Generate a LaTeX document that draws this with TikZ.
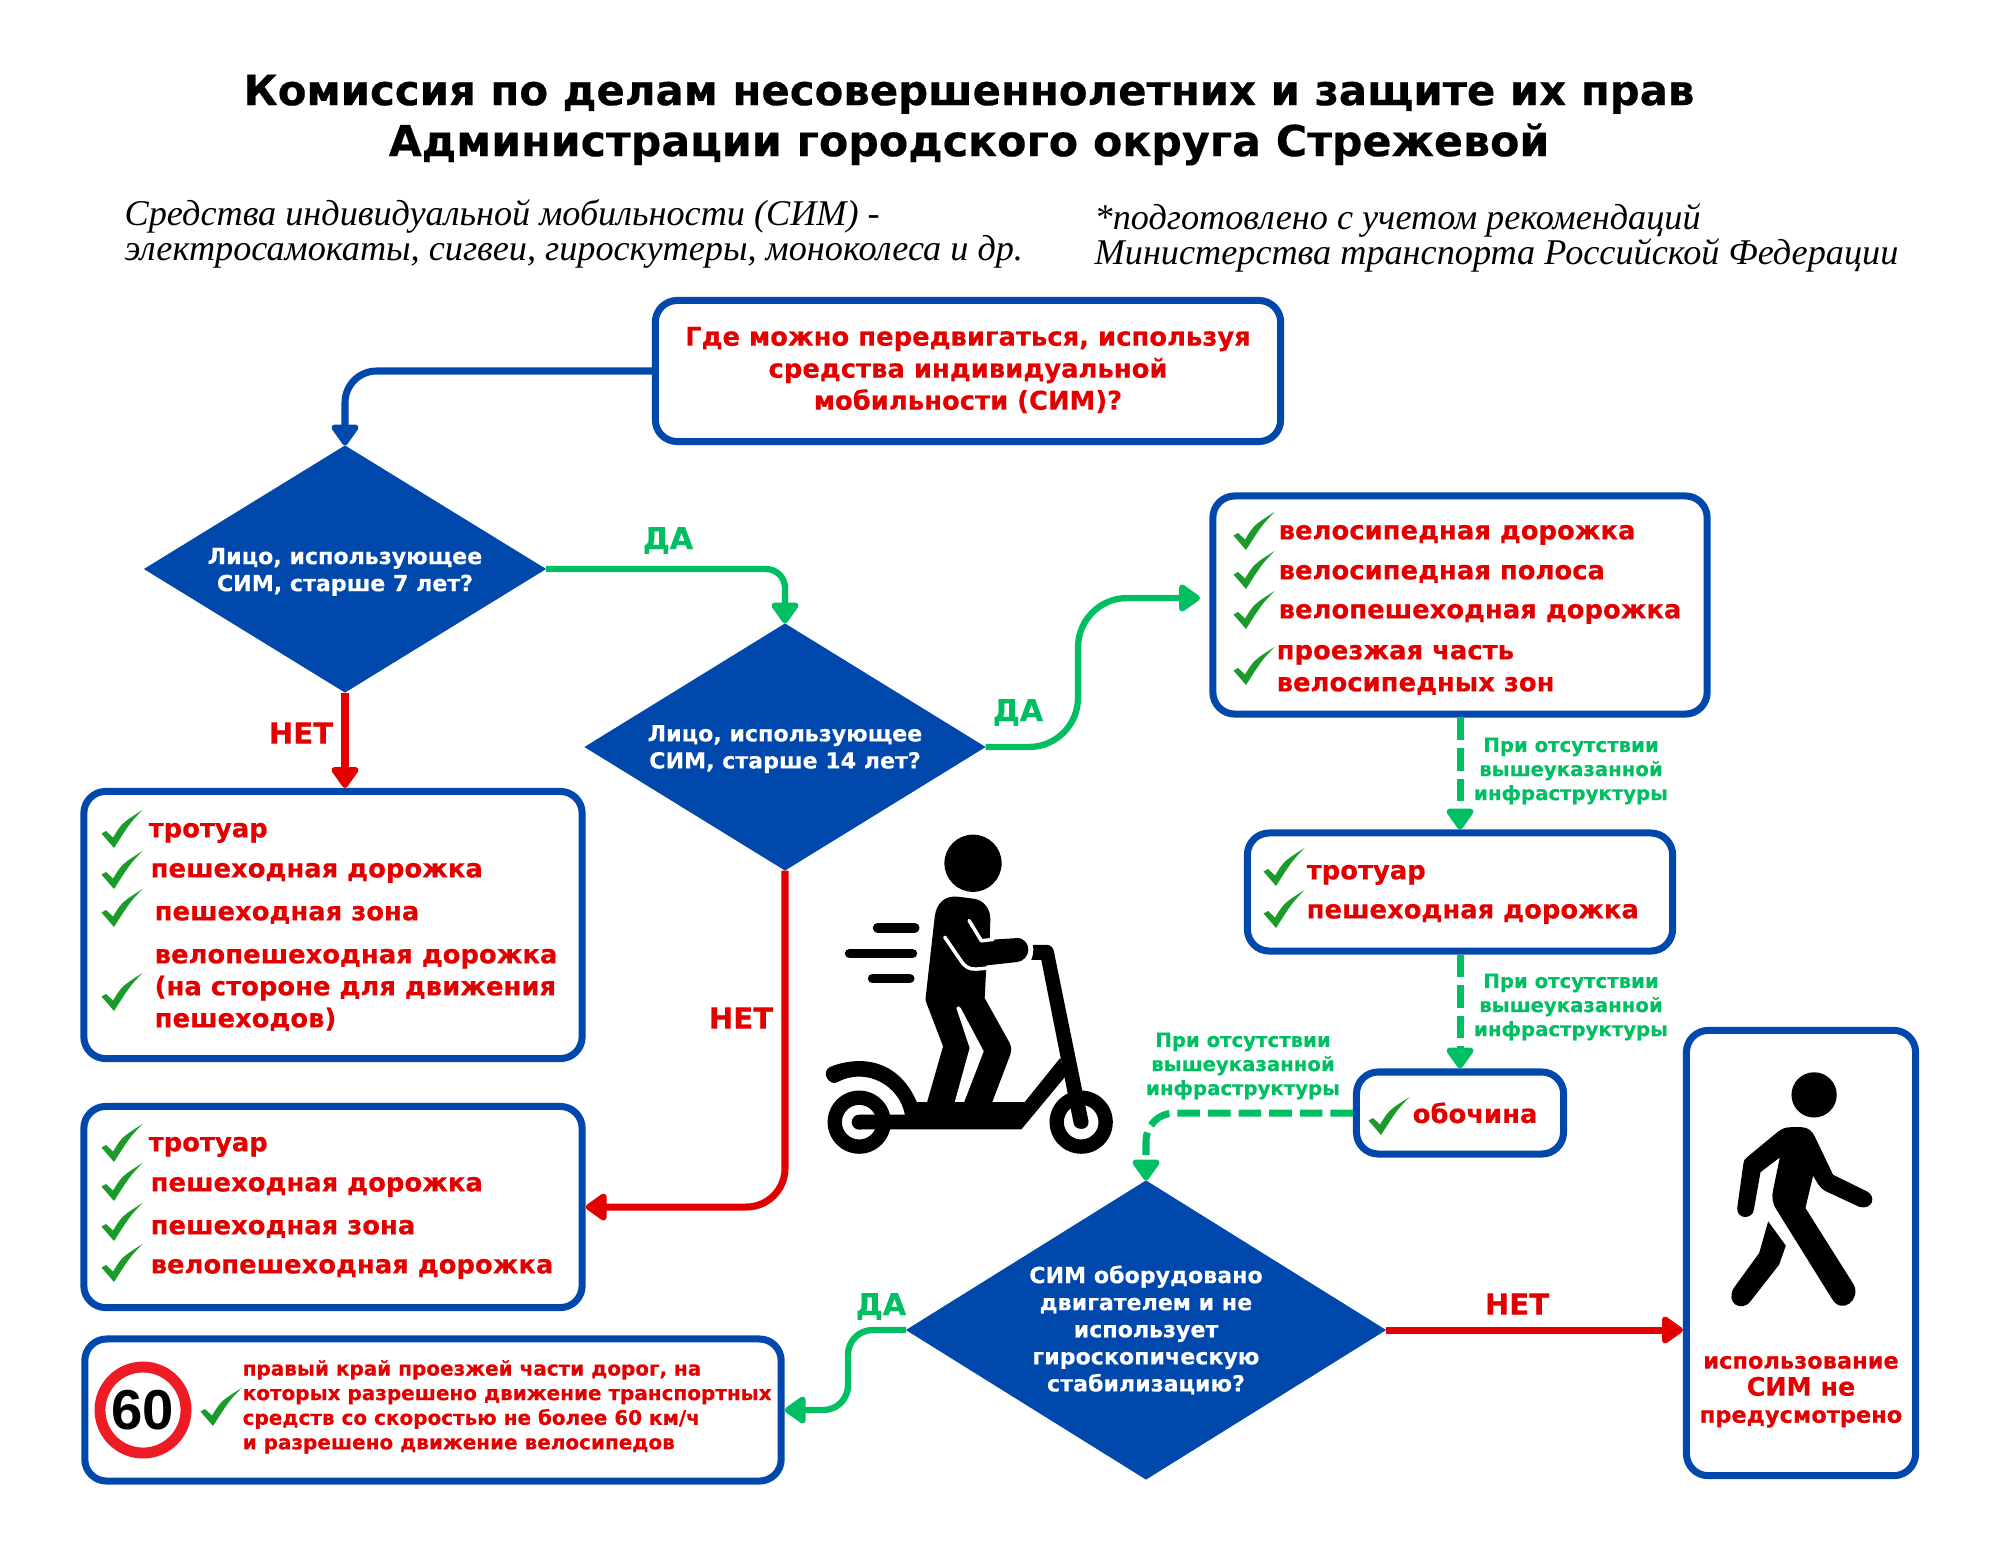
\documentclass[tikz,border=0pt]{standalone}
\usepackage{fontspec}
\setmainfont{DejaVu Sans}[BoldFeatures={FakeBold=0.35}]
\newfontfamily\handfont{Liberation Serif}
\newfontfamily\signfont{Liberation Sans}
\usetikzlibrary{arrows.meta,shapes.geometric}
\definecolor{simblue}{RGB}{0,72,171}
\definecolor{simred}{RGB}{227,0,0}
\definecolor{simgreen}{RGB}{0,191,99}
\definecolor{chkgreen}{RGB}{26,155,42}
\definecolor{signred}{RGB}{237,28,36}

\begin{document}
\begin{tikzpicture}[x=0.01cm,y=-0.01cm,line join=round,
    >={Triangle[length=6.6pt,width=8.8pt,round]},
    infobox/.style={draw=simblue,line width=2pt,rounded corners=6.2pt,fill=white,inner sep=0pt},
    qdiamond/.style={diamond,shape aspect=1.62,fill=simblue,text=white,inner sep=0pt,outer sep=0pt,align=center,
        font=\fontsize{6.3}{7.7}\selectfont\bfseries},
    redtxt/.style={text=simred,align=left,anchor=west,inner sep=0pt,yshift=-1.1pt,
        font=\fontsize{7.35}{9.1}\selectfont\bfseries},
    grnlbl/.style={text=simgreen,align=center,inner sep=0pt,
        font=\fontsize{5.6}{6.85}\selectfont\bfseries},
    yeslbl/.style={text=simgreen,inner sep=0pt,yshift=-.7pt,font=\fontsize{8.6}{10}\selectfont\bfseries},
    nolbl/.style={text=simred,inner sep=0pt,font=\fontsize{8.3}{10}\selectfont\bfseries},
    blueline/.style={draw=simblue,line width=2pt,->},
    redline/.style={draw=simred,line width=2pt,->},
    grnline/.style={draw=simgreen,line width=1.8pt,->},
    grndash/.style={grnline,line width=2pt,dash pattern=on 6.4pt off 2.3pt},
    handtxt/.style={align=left,anchor=west,inner sep=0pt,
        font=\fontsize{10.3}{10.2}\selectfont\handfont\itshape},
    chk/.pic={\fill[chkgreen] (-20.5,4.5) -- (-16,2) -- (-9,8.5) .. controls (0,-6) .. (20.5,-19)
        .. controls (8,-6) .. (-8,19) -- cycle;}]
\useasboundingbox (0,0) rectangle (2000,1545);

\node[align=center,inner sep=0pt,font=\fontsize{11.9}{14.5}\selectfont\bfseries] (title) at (969,120)
    {Комиссия по делам несовершеннолетних и защите их прав\\{\fontsize{12.15}{14.5}\selectfont Администрации городского округа Стрежевой}};
\node[handtxt] (simnote) at (124,234)
    {Средства индивидуальной мобильности (СИМ) -\\электросамокаты, сигвеи, гироскутеры, моноколеса и др.};
\node[handtxt] (recnote) at (1094,238)
    {*подготовлено с учетом рекомендаций\\Министерства транспорта Российской Федерации};

% boxes
\node[infobox,minimum width=6.25cm,minimum height=1.41cm] (top) at (968,371) {};
\node[infobox,minimum width=4.94cm,minimum height=2.18cm] (rtop) at (1460,605) {};
\node[infobox,minimum width=4.25cm,minimum height=1.18cm] (rmid) at (1460,892) {};
\node[infobox,minimum width=2.07cm,minimum height=.82cm] (shoulder) at (1460,1113) {};
\node[infobox,minimum width=2.29cm,minimum height=4.45cm] (walker) at (1801,1253) {};
\node[infobox,minimum width=4.98cm,minimum height=2.67cm] (lone) at (333,925) {};
\node[infobox,minimum width=4.98cm,minimum height=2.01cm] (ltwo) at (333,1207) {};
\node[infobox,minimum width=6.96cm,minimum height=1.42cm] (road) at (433,1410) {};

\node[qdiamond,minimum width=4.02cm,minimum height=2.47cm] (age7) at (345,569) {\rule{0pt}{6.2pt}Лицо, использующее\\СИМ, старше 7 лет?};
\node[qdiamond,minimum width=4.01cm,minimum height=2.47cm] (age14) at (785,747) {\rule{0pt}{5.8pt}Лицо, использующее\\СИМ, старше 14 лет?};
\node[qdiamond,minimum width=4.8cm,minimum height=2.99cm] (motor) at (1146,1330)
    {СИМ оборудовано\\двигателем и не\\использует\\гироскопическую\\стабилизацию?};

% box texts
\node[redtxt,align=center,anchor=center,yshift=1.4pt] (toptxt) at (968,371)
    {Где можно передвигаться, используя\\средства индивидуальной\\мобильности (СИМ)?};
\node[redtxt] (l1a) at (148,829) {тротуар};
\node[redtxt] (l1b) at (150,869) {пешеходная дорожка};
\node[redtxt] (l1c) at (154,911) {пешеходная зона};
\node[redtxt] (l1d) at (154,986) {велопешеходная дорожка\\(на стороне для движения\\пешеходов)};
\node[redtxt] (l2a) at (148,1143) {тротуар};
\node[redtxt] (l2b) at (150,1183) {пешеходная дорожка};
\node[redtxt] (l2c) at (150,1225) {пешеходная зона};
\node[redtxt] (l2d) at (150,1265) {велопешеходная дорожка};
\node[redtxt] (r1a) at (1278,531) {велосипедная дорожка};
\node[redtxt] (r1b) at (1278,570) {велосипедная полоса};
\node[redtxt] (r1c) at (1278,610) {велопешеходная дорожка};
\node[redtxt] (r1d) at (1276,666) {проезжая часть\\велосипедных зон};
\node[redtxt] (r2a) at (1306,871) {тротуар};
\node[redtxt] (r2b) at (1306,910) {пешеходная дорожка};
\node[redtxt] (shtxt) at (1412,1109) {обочина};
\node[redtxt,align=center,anchor=center,yshift=.6pt,font=\fontsize{6.4}{7.7}\selectfont\bfseries] (walktxt) at (1801,1390)
    {использование\\{\fontsize{7.2}{7.7}\selectfont СИМ не}\\предусмотрено};
\node[redtxt,font=\fontsize{5.68}{7}\selectfont\bfseries] (roadtxt) at (242,1403)
    {правый край проезжей части дорог, на\\которых разрешено движение транспортных\\средств со скоростью не более 60 км/ч\\и разрешено движение велосипедов};

% checks
\foreach \i in {829,870,908,992,1143,1182,1222,1263}
    \pic at (122,\i) {chk};
\foreach \i in {531,570,610,666}
    \pic at (1254,\i) {chk};
\foreach \i in {867,909}
    \pic at (1284,\i) {chk};
\pic at (1389,1116) {chk};
\pic at (221,1407) {chk};

% sign
\node[circle,draw=signred,line width=3.1pt,fill=white,minimum size=.86cm,inner sep=0pt,
    font=\fontsize{16}{16}\selectfont\signfont\bfseries] (limit) at (143,1410) {60};

% connectors
\coordinate (uplow) at (1078,747);
\coordinate (uphigh) at (1078,598);
\coordinate (rtin) at (1200,598);
\coordinate (roadhigh) at (848,1330);
\coordinate (roadlow) at (848,1410);
\draw[blueline,rounded corners=9pt] (top.west) -| (age7.north);
\draw[grnline,rounded corners=5.4pt] (age7.east) -| (age14.north);
\draw[redline] (age7.south) -- (lone.north -| age7.south);
\draw[grnline,rounded corners=14pt] (age14.east) -- (uplow) -- (uphigh) -- (rtin);
\draw[redline,rounded corners=11pt] (age14.south) |- (ltwo.east);
\draw[grndash] (rtop.south) -- (rmid.north);
\draw[grndash] (rmid.south) -- (shoulder.north);
\draw[grndash,rounded corners=8pt] (shoulder.west) -| (motor.north);
\draw[grnline,rounded corners=7pt] (motor.west) -- (roadhigh) -- (roadlow) -- (road.east);
\draw[redline] (motor.east) -- (motor.east -| walker.west);

% connector labels
\node[yeslbl] (yes1) at (668,538) {ДА};
\node[yeslbl] (yes2) at (1018,710) {ДА};
\node[yeslbl] (yes3) at (881,1304) {ДА};
\node[nolbl] (no1) at (301,733) {НЕТ};
\node[nolbl] (no2) at (741,1018) {НЕТ};
\node[nolbl] (no3) at (1517,1304) {НЕТ};
\node[grnlbl] (abs1) at (1571,771) {При отсутствии\\вышеуказанной\\инфраструктуры};
\node[grnlbl] (abs2) at (1571,1007) {При отсутствии\\вышеуказанной\\инфраструктуры};
\node[grnlbl] (abs3) at (1243,1066) {При отсутствии\\вышеуказанной\\инфраструктуры};

% rider on scooter
\begin{scope}[shift={(780,800)},x=0.0033333cm,y=-0.0033333cm]
\fill (580,190) circle[radius=86];
\foreach \a/\b/\c in {293/405/384,209/398/461,278/390/537}
    \draw[line width=2.7pt,line cap=round] (\a,\c) -- (\b,\c);
\fill (465,350) .. controls (470,310) and (495,288) .. (530,290) -- (585,297)
    .. controls (615,303) and (633,330) .. (632,360) -- (630,420) -- (710,415)
    .. controls (735,413) and (748,435) .. (746,452) .. controls (745,470) and (730,485) .. (712,487)
    -- (620,497) -- (615,595) -- (690,730) .. controls (697,745) and (695,755) .. (692,765)
    -- (635,915) -- (440,915) -- (490,740) -- (440,610)
    .. controls (436,600) and (438,595) .. (438,590) -- cycle;
\draw[white,line width=1pt,line cap=round] (568,362) -- (605,423) -- (640,419);
\draw[white,line width=1pt,line cap=round] (495,412) -- (545,485) .. controls (555,500) and (570,510) .. (590,508) -- (625,505);
\fill[white] (530,625) .. controls (532,618) and (540,618) .. (543,625) -- (612,755) -- (553,908) -- (525,908) -- (570,745) -- cycle;
\fill (150,802) .. controls (230,770) and (350,770) .. (410,905) -- (420,930) -- (375,945)
    .. controls (360,860) and (260,800) .. (172,848) .. controls (150,860) and (120,820) .. (150,802) -- cycle;
\fill (410,908) -- (735,908) -- (842,775) -- (858,830) -- (725,990) -- (240,990) -- (240,945) -- (375,945) -- cycle;
\fill (238,968) circle[radius=22.5];
\fill[even odd rule] (238,968) circle[radius=95] circle[radius=52];
\fill[even odd rule] (905,968) circle[radius=95] circle[radius=52];
\fill (760,435) -- (800,435) .. controls (815,435) and (822,445) .. (824,460) -- (927,965)
    .. controls (930,995) and (885,995) .. (882,970) -- (785,480) -- (755,480) .. controls (762,465) and (762,450) .. (760,435) -- cycle;
\end{scope}

% walking person
\begin{scope}[shift={(1660,1020)},x=0.0033333cm,y=-0.0033333cm]
\fill (463,225) circle[radius=68];
\fill (395,322) -- (425,322) .. controls (445,322) and (458,335) .. (465,350) -- (520,465) -- (622,515)
    .. controls (650,530) and (640,570) .. (600,562) -- (495,513) .. controls (480,505) and (470,485) .. (460,468)
    -- (437,565) -- (582,795) .. controls (605,840) and (545,890) .. (515,835) -- (350,570)
    .. controls (338,550) and (335,535) .. (340,510) -- (360,413) -- (302,457) -- (282,570)
    .. controls (278,600) and (230,600) .. (232,565) -- (250,435) .. controls (252,420) and (255,418) .. (262,412)
    -- (355,335) .. controls (368,325) and (380,322) .. (395,322) -- cycle;
\fill (325,605) -- (378,678) -- (358,735) -- (272,845) .. controls (245,880) and (195,850) .. (222,805) -- (298,700) -- cycle;
\end{scope}
\end{tikzpicture}
\end{document}
